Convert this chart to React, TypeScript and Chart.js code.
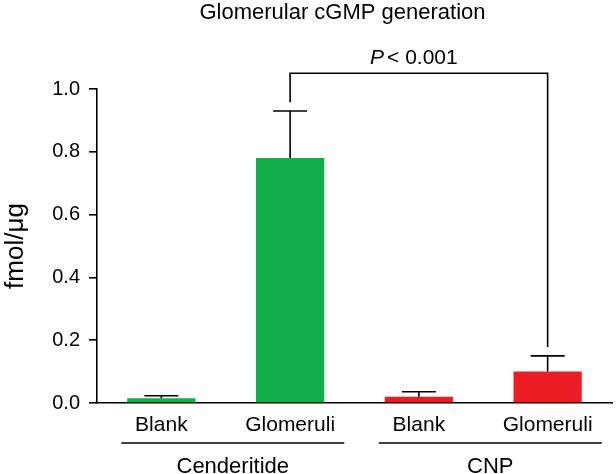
import React, { useEffect, useRef } from "react";
import { Chart, registerables } from "chart.js";
Chart.register(...registerables);

const categories = ["Blank", "Glomeruli", "Blank", "Glomeruli"];
const groups = ["Cenderitide", "CNP"];
const means = [0.015, 0.78, 0.02, 0.1];
const errors = [0.008, 0.15, 0.016, 0.05];
const barColors = ["#11AE4B", "#11AE4B", "#EC1C24", "#EC1C24"];
const yTicks = [0, 0.2, 0.4, 0.6, 0.8, 1.0];
const titleText = "Glomerular cGMP generation";
const yLabel = "fmol/\u03bcg";
const pLetter = "P";
const pRest = "< 0.001";
const comparison = [1, 3];
const bracketLevel = 1.05;
const bracketGap = 0.028;

const FONT = "'Liberation Sans', Arial, Helvetica, sans-serif";

const overlay = {
  id: "overlay",
  afterDatasetsDraw(chart: any) {
    const { ctx, scales, chartArea } = chart;
    const x = scales.x;
    const y = scales.y;
    ctx.save();
    ctx.strokeStyle = "#000";
    ctx.lineWidth = 1.6;
    // error bars
    means.forEach((m, i) => {
      const px = x.getPixelForValue(i);
      const base = y.getPixelForValue(m);
      const top = y.getPixelForValue(m + errors[i]);
      ctx.beginPath();
      ctx.moveTo(px, base);
      ctx.lineTo(px, top);
      ctx.moveTo(px - 17, top);
      ctx.lineTo(px + 17, top);
      ctx.stroke();
    });
    // significance bracket
    const [a, b] = comparison;
    const xa = x.getPixelForValue(a);
    const xb = x.getPixelForValue(b);
    const yl = y.getPixelForValue(bracketLevel);
    const ya = y.getPixelForValue(means[a] + errors[a] + bracketGap);
    const yb = y.getPixelForValue(means[b] + errors[b] + bracketGap);
    ctx.beginPath();
    ctx.moveTo(xa, ya);
    ctx.lineTo(xa, yl);
    ctx.lineTo(xb, yl);
    ctx.lineTo(xb, yb);
    ctx.stroke();
    // P text
    const pcx = (xa + xb) / 2 - 5;
    const pcy = yl - 15;
    ctx.fillStyle = "#000";
    ctx.textBaseline = "middle";
    ctx.font = `italic 21px ${FONT}`;
    const w1 = ctx.measureText(pLetter).width;
    ctx.font = `21px ${FONT}`;
    const w2 = ctx.measureText(pRest).width;
    const gap = 3;
    const start = pcx - (w1 + gap + w2) / 2;
    ctx.textAlign = "left";
    ctx.font = `italic 21px ${FONT}`;
    ctx.fillText(pLetter, start, pcy);
    ctx.font = `21px ${FONT}`;
    ctx.fillText(pRest, start + w1 + gap, pcy);
    // group underlines and labels
    const cw = x.getPixelForValue(1) - x.getPixelForValue(0);
    groups.forEach((g, gi) => {
      const c = (x.getPixelForValue(gi * 2) + x.getPixelForValue(gi * 2 + 1)) / 2 + 7;
      const half = cw * 0.866;
      const ly = x.top + 40;
      ctx.beginPath();
      ctx.moveTo(c - half, ly);
      ctx.lineTo(c + half, ly);
      ctx.stroke();
      ctx.font = `22px ${FONT}`;
      ctx.textAlign = "center";
      ctx.textBaseline = "middle";
      ctx.fillText(g, c, x.top + 64);
    });
    // title
    ctx.font = `22px ${FONT}`;
    ctx.textAlign = "center";
    ctx.textBaseline = "middle";
    ctx.fillText(titleText, (chartArea.left + chartArea.right) / 2 - 12, 13);
    ctx.restore();
  },
};

export default function App() {
  const ref = useRef<HTMLCanvasElement>(null);
  useEffect(() => {
    if (!ref.current) return;
    const chart = new Chart(ref.current, {
      type: "bar",
      data: {
        labels: categories,
        datasets: [
          {
            data: means,
            backgroundColor: barColors,
            borderWidth: 0,
            barPercentage: 0.53,
            categoryPercentage: 1,
          },
        ],
      },
      options: {
        animation: false,
        responsive: false,
        layout: { padding: { top: 89, right: 4, left: 0, bottom: 0 } },
        plugins: {
          legend: { display: false },
          tooltip: { enabled: false },
          title: { display: false },
        },
        scales: {
          x: {
            type: "category",
            offset: true,
            grid: { display: false, drawTicks: false },
            border: { display: true, color: "#000", width: 1.6 },
            ticks: {
              color: "#000",
              font: { family: FONT, size: 21 },
              padding: 10,
              maxRotation: 0,
              autoSkip: false,
            },
            afterFit: (s: any) => {
              s.height = 71;
            },
          },
          y: {
            position: "left",
            min: 0,
            max: 1,
            afterBuildTicks: (s: any) => {
              s.ticks = yTicks.map((v) => ({ value: v }));
            },
            grid: {
              display: true,
              drawOnChartArea: false,
              drawTicks: true,
              tickLength: 8,
              color: "#000",
              lineWidth: 1.6,
            },
            border: { display: true, color: "#000", width: 1.6 },
            ticks: {
              color: "#000",
              font: { family: FONT, size: 20 },
              padding: 9,
              callback: (v: any) => Number(v).toFixed(1),
            },
            title: {
              display: true,
              text: yLabel,
              color: "#000",
              font: { family: FONT, size: 26 },
              padding: { top: 0, bottom: 0 },
            },
            afterFit: (s: any) => {
              s.width = 97;
            },
          },
        },
      },
      plugins: [overlay],
    });
    return () => chart.destroy();
  }, []);
  return (
    <div style={{ position: "fixed", left: 0, top: 0, width: 616, height: 474 }}>
      <canvas ref={ref} width={616} height={474} />
    </div>
  );
}
